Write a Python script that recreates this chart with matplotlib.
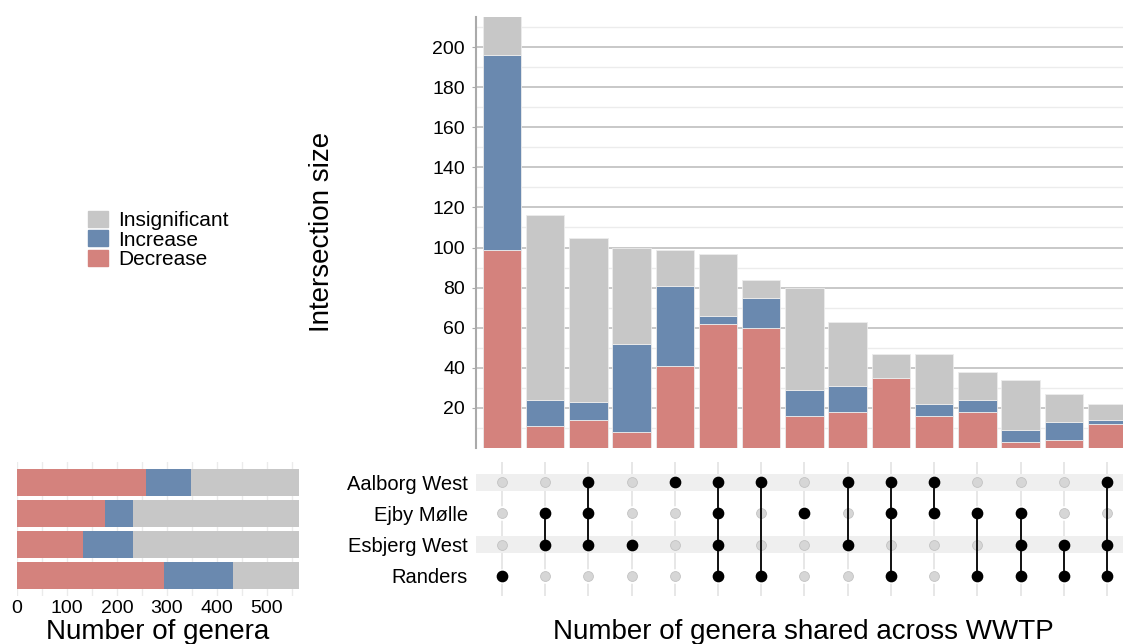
import numpy as np
import matplotlib
matplotlib.use("Agg")
import matplotlib.pyplot as plt
from matplotlib.patches import Patch

plt.rcParams["font.family"] = ["Liberation Sans", "DejaVu Sans"]

# Daten
sets = ["Aalborg West", "Ejby Mølle", "Esbjerg West", "Randers"]
set_decrease = [257, 175, 131, 293]
set_increase = [90, 56, 100, 139]
set_insignificant = [217, 333, 333, 132]

# Mitgliedschaft pro Intersection (Reihenfolge wie sets)
membership = [
    ["Randers"],
    ["Ejby Mølle", "Esbjerg West"],
    ["Aalborg West", "Ejby Mølle", "Esbjerg West"],
    ["Esbjerg West"],
    ["Aalborg West"],
    ["Aalborg West", "Ejby Mølle", "Esbjerg West", "Randers"],
    ["Aalborg West", "Randers"],
    ["Ejby Mølle"],
    ["Aalborg West", "Esbjerg West"],
    ["Aalborg West", "Ejby Mølle", "Randers"],
    ["Aalborg West", "Ejby Mølle"],
    ["Ejby Mølle", "Randers"],
    ["Ejby Mølle", "Esbjerg West", "Randers"],
    ["Esbjerg West", "Randers"],
    ["Aalborg West", "Esbjerg West", "Randers"],
]
inter_decrease = [99, 11, 14, 8, 41, 62, 60, 16, 18, 35, 16, 18, 3, 4, 12]
inter_increase = [97, 13, 9, 44, 40, 4, 15, 13, 13, 0, 6, 6, 6, 9, 2]
inter_insignificant = [20, 92, 82, 48, 18, 31, 9, 51, 32, 12, 25, 14, 25, 14, 8]

c_dec = "#d4827d"
c_inc = "#6a89af"
c_ins = "#c7c7c7"

W, H = 1123, 644
fig = plt.figure(figsize=(W / 100, H / 100), dpi=100)


def ax_at(l, t, r, b):
    return fig.add_axes([l / W, 1 - b / H, (r - l) / W, (b - t) / H])


# ── Intersection-Balken ────────────────
ax_top = ax_at(476, 17, 1123, 448)
x = np.arange(len(membership))
dec = np.array(inter_decrease)
inc = np.array(inter_increase)
ins = np.array(inter_insignificant)
ax_top.bar(x, dec, width=0.89, color=c_dec, edgecolor="#ececec", linewidth=0.6, zorder=3)
ax_top.bar(x, inc, bottom=dec, width=0.89, color=c_inc, edgecolor="#ececec", linewidth=0.6, zorder=3)
ax_top.bar(x, ins, bottom=dec + inc, width=0.89, color=c_ins, edgecolor="#ececec", linewidth=0.6, zorder=3)
ax_top.set_xlim(-0.6, 14.37)
ax_top.set_ylim(0, 215)
ax_top.set_yticks(np.arange(20, 201, 20))
ax_top.set_yticks(np.arange(10, 215, 10), minor=True)
ax_top.grid(True, which="major", axis="y", color="#b9b9b9", linewidth=1.1, zorder=0)
ax_top.grid(True, which="minor", axis="y", color="#ececec", linewidth=1.0, zorder=0)
ax_top.set_xticks([])
for s in ["top", "right", "bottom"]:
    ax_top.spines[s].set_visible(False)
ax_top.spines["left"].set_color("#aaaaaa")
ax_top.spines["left"].set_linewidth(1.5)
ax_top.tick_params(axis="y", which="major", labelsize=14, length=3, color="#aaaaaa", pad=5)
ax_top.tick_params(axis="y", which="minor", length=0)
fig.text(322 / W, 1 - 232 / H, "Intersection size", rotation=90, fontsize=20,
         ha="center", va="center")

# ── Matrix ────────────────
ax_m = ax_at(476, 462, 1123, 596)
ax_m.set_xlim(-0.6, 14.37)
ax_m.set_ylim(3.65, -0.65)
for xi in x:
    ax_m.axvline(xi, color="#e3e3e3", linewidth=1.2, zorder=0)
# weiße Ringe unterbrechen die Gitterlinien um die Punkte
for xi in x:
    ax_m.scatter([xi] * len(sets), range(len(sets)), s=110, color="white",
                 linewidth=0, zorder=0.5)
for i in [0, 2]:
    ax_m.axhspan(i - 0.27, i + 0.27, color="#efefef", zorder=1, linewidth=0)
for xi, mem in zip(x, membership):
    rows = [sets.index(m) for m in mem]
    inactive = [r for r in range(len(sets)) if r not in rows]
    ax_m.scatter([xi] * len(inactive), inactive, s=50, color="#d6d6d6",
                 edgecolor="#c2c2c2", linewidth=0.6, zorder=2)
    if len(rows) > 1:
        ax_m.plot([xi, xi], [min(rows), max(rows)], color="black", linewidth=1.3, zorder=3)
    ax_m.scatter([xi] * len(rows), rows, s=55, color="black", zorder=4)
ax_m.set_yticks(range(len(sets)))
ax_m.set_yticklabels(sets, fontsize=14.5)
ax_m.tick_params(axis="y", length=0, pad=6)
ax_m.set_xticks([])
for s in ax_m.spines.values():
    s.set_visible(False)
fig.text(803 / W, 1 - 632 / H, "Number of genera shared across WWTP", fontsize=20,
         ha="center", va="center")

# ── Set-Größen ────────────────
ax_s = ax_at(17, 462, 299, 596)
y = np.arange(len(sets))
sd = np.array(set_decrease)
si = np.array(set_increase)
sn = np.array(set_insignificant)
ax_s.barh(y, sd, height=0.87, color=c_dec, zorder=3)
ax_s.barh(y, si, left=sd, height=0.87, color=c_inc, zorder=3)
ax_s.barh(y, sn, left=sd + si, height=0.87, color=c_ins, zorder=3)
ax_s.set_xlim(0, 564)
ax_s.set_ylim(3.65, -0.65)
ax_s.set_xticks(np.arange(0, 501, 100))
ax_s.set_xticks(np.arange(50, 564, 100), minor=True)
ax_s.grid(True, which="both", axis="x", color="#ebebeb", linewidth=1.0, zorder=0)
ax_s.set_yticks([])
ax_s.tick_params(axis="x", which="both", length=0, labelsize=14, pad=3)
for s in ax_s.spines.values():
    s.set_visible(False)
fig.text(158 / W, 1 - 632 / H, "Number of genera", fontsize=20, ha="center", va="center")

# ── Legende ────────────────
handles = [Patch(color=c_ins, label="Insignificant"),
           Patch(color=c_inc, label="Increase"),
           Patch(color=c_dec, label="Decrease")]
fig.legend(handles=handles, loc="center left", bbox_to_anchor=(88 / W, 1 - 240 / H),
           frameon=False, fontsize=15, handlelength=0.95, handleheight=0.8,
           labelspacing=0.0, handletextpad=0.5, borderpad=0, borderaxespad=0)

plt.savefig("out.png", dpi=100)
